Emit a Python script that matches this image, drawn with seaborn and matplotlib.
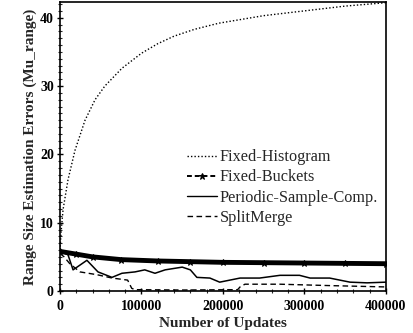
import matplotlib
matplotlib.use("Agg")
import matplotlib.pyplot as plt
import seaborn as sns
import numpy as np
import pandas as pd
from matplotlib.ticker import MultipleLocator

sns.set_theme(style="white")
plt.rcParams['font.family'] = ['Liberation Serif', 'DejaVu Serif']

hist_x = [0, 1200, 3700, 9800, 18400, 30700, 43000, 55000, 76000, 100000, 120000, 140000, 165000, 195000, 250000, 300000, 350000, 400000]
hist_y = [6.0, 8.5, 11.9, 16.3, 20.6, 25.0, 28.0, 30.0, 32.6, 34.8, 36.2, 37.3, 38.3, 39.2, 40.3, 41.0, 41.7, 42.2]

buck_x = [0, 20000, 40000, 75000, 120000, 160000, 200000, 250000, 300000, 350000, 400000]
buck_y = [5.8, 5.4, 5.0, 4.6, 4.4, 4.3, 4.2, 4.15, 4.1, 4.05, 4.0]

per_x = [0, 2500, 9800, 16000, 33000, 46600, 63800, 76000, 92000, 104000, 116600, 129000, 150000, 160000, 168000, 184000, 196000, 221000, 245000, 270000, 294000, 307000, 331000, 356000, 377000, 400000]
per_y = [5.6, 5.7, 5.3, 3.1, 4.5, 2.8, 2.0, 2.6, 2.8, 3.1, 2.6, 3.1, 3.5, 3.1, 2.0, 1.9, 1.3, 1.9, 1.9, 2.3, 2.3, 1.9, 1.9, 1.3, 1.2, 1.3]

split_x = [0, 5000, 12000, 24500, 45000, 64000, 83000, 88000, 92000, 150000, 218000, 221000, 227000, 270000, 330000, 400000]
split_y = [5.5, 5.0, 4.0, 2.8, 2.4, 1.9, 1.6, 0.4, 0.2, 0.15, 0.2, 0.6, 1.0, 1.0, 0.8, 0.6]

fig = plt.figure(figsize=(4.14, 3.33), dpi=100)
ax = fig.add_axes([0.145, 0.126, 0.787, 0.868])

sns.lineplot(x=hist_x, y=hist_y, ax=ax, color='black', lw=1.0, linestyle=(0, (1, 1.5)), label='Fixed-Histogram')
sns.lineplot(x=buck_x, y=buck_y, ax=ax, color='black', lw=3.5, linestyle='-', marker='*', markersize=5,
             markeredgecolor='black', markerfacecolor='black', label='Fixed-Buckets')
sns.lineplot(x=per_x, y=per_y, ax=ax, color='black', lw=1.1, linestyle='-', label='Periodic-Sample-Comp.')
sns.lineplot(x=split_x, y=split_y, ax=ax, color='black', lw=1.0, linestyle=(0, (4, 2.5)), label='SplitMerge')

ax.set_xlim(0, 400000)
ax.set_ylim(0, 42.3)
ax.set_xticks([0, 100000, 200000, 300000, 400000])
ax.set_yticks([0, 10, 20, 30, 40])
ax.yaxis.set_minor_locator(MultipleLocator(1))
ax.xaxis.set_minor_locator(MultipleLocator(20000))
ax.tick_params(axis='both', which='major', direction='inout', length=5, width=1, labelsize=10, colors='black', pad=2)
ax.tick_params(axis='x', which='major', pad=4)
ax.tick_params(axis='both', which='minor', direction='inout', length=3, width=0.8)
ax.tick_params(bottom=True, left=True, which='both')
for lab in ax.get_xticklabels() + ax.get_yticklabels():
    lab.set_fontweight('bold')
for s in ax.spines.values():
    s.set_color('black')
    s.set_linewidth(1.2)

ax.set_xlabel('Number of Updates', fontsize=11, fontweight='bold', labelpad=3)
ax.set_ylabel('Range Size Estimation Errors (Mu_range)', fontsize=11, fontweight='bold', labelpad=2)

leg = ax.legend(loc='upper left', bbox_to_anchor=(0.39, 0.49), frameon=False, fontsize=11.7,
                handlelength=1.85, handletextpad=0.15, labelspacing=0.25, borderaxespad=0,
                borderpad=0)
lines = leg.get_lines()
for h in lines:
    h.set_linewidth(1.0)
lines[1].set_linestyle((0, (2.5, 1.5)))
lines[1].set_linewidth(1.4)

fig.savefig('out.png', dpi=100)
